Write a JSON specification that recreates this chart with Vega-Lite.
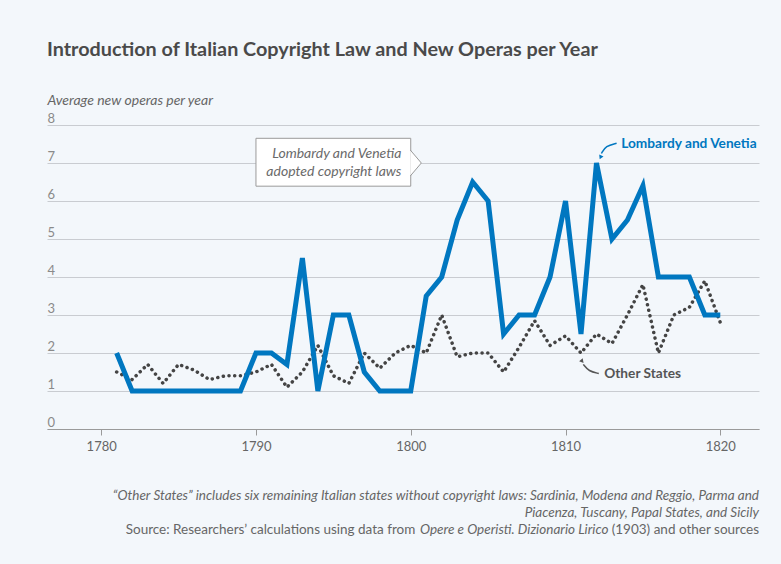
{
  "$schema": "https://vega.github.io/schema/vega-lite/v6.json",
  "autosize": {"type": "none"},
  "width": 712,
  "height": 304,
  "padding": {"left": 47, "top": 125, "right": 22, "bottom": 135},
  "background": "#f3f7fb",
  "config": {"view": {"stroke": null}, "font": "Lato", "text": {"font": "Lato"}},
  "title": {
    "text": "Introduction of Italian Copyright Law and New Operas per Year",
    "anchor": "start",
    "frame": "group",
    "font": "Lato",
    "fontSize": 19.8,
    "fontWeight": "bold",
    "color": "#4a4a4a",
    "offset": 33
  },
  "datasets": {
    "series": [
      {"year": 1781, "value": 2, "series": "Lombardy and Venetia"},
      {"year": 1782, "value": 1, "series": "Lombardy and Venetia"},
      {"year": 1783, "value": 1, "series": "Lombardy and Venetia"},
      {"year": 1784, "value": 1, "series": "Lombardy and Venetia"},
      {"year": 1785, "value": 1, "series": "Lombardy and Venetia"},
      {"year": 1786, "value": 1, "series": "Lombardy and Venetia"},
      {"year": 1787, "value": 1, "series": "Lombardy and Venetia"},
      {"year": 1788, "value": 1, "series": "Lombardy and Venetia"},
      {"year": 1789, "value": 1, "series": "Lombardy and Venetia"},
      {"year": 1790, "value": 2, "series": "Lombardy and Venetia"},
      {"year": 1791, "value": 2, "series": "Lombardy and Venetia"},
      {"year": 1792, "value": 1.7, "series": "Lombardy and Venetia"},
      {"year": 1793, "value": 4.5, "series": "Lombardy and Venetia"},
      {"year": 1794, "value": 1, "series": "Lombardy and Venetia"},
      {"year": 1795, "value": 3, "series": "Lombardy and Venetia"},
      {"year": 1796, "value": 3, "series": "Lombardy and Venetia"},
      {"year": 1797, "value": 1.5, "series": "Lombardy and Venetia"},
      {"year": 1798, "value": 1, "series": "Lombardy and Venetia"},
      {"year": 1799, "value": 1, "series": "Lombardy and Venetia"},
      {"year": 1800, "value": 1, "series": "Lombardy and Venetia"},
      {"year": 1801, "value": 3.5, "series": "Lombardy and Venetia"},
      {"year": 1802, "value": 4, "series": "Lombardy and Venetia"},
      {"year": 1803, "value": 5.5, "series": "Lombardy and Venetia"},
      {"year": 1804, "value": 6.5, "series": "Lombardy and Venetia"},
      {"year": 1805, "value": 6, "series": "Lombardy and Venetia"},
      {"year": 1806, "value": 2.5, "series": "Lombardy and Venetia"},
      {"year": 1807, "value": 3, "series": "Lombardy and Venetia"},
      {"year": 1808, "value": 3, "series": "Lombardy and Venetia"},
      {"year": 1809, "value": 4, "series": "Lombardy and Venetia"},
      {"year": 1810, "value": 6, "series": "Lombardy and Venetia"},
      {"year": 1811, "value": 2.5, "series": "Lombardy and Venetia"},
      {"year": 1812, "value": 7, "series": "Lombardy and Venetia"},
      {"year": 1813, "value": 5, "series": "Lombardy and Venetia"},
      {"year": 1814, "value": 5.5, "series": "Lombardy and Venetia"},
      {"year": 1815, "value": 6.4, "series": "Lombardy and Venetia"},
      {"year": 1816, "value": 4, "series": "Lombardy and Venetia"},
      {"year": 1817, "value": 4, "series": "Lombardy and Venetia"},
      {"year": 1818, "value": 4, "series": "Lombardy and Venetia"},
      {"year": 1819, "value": 3, "series": "Lombardy and Venetia"},
      {"year": 1820, "value": 3, "series": "Lombardy and Venetia"},
      {"year": 1781, "value": 1.5, "series": "Other States"},
      {"year": 1782, "value": 1.3, "series": "Other States"},
      {"year": 1783, "value": 1.7, "series": "Other States"},
      {"year": 1784, "value": 1.2, "series": "Other States"},
      {"year": 1785, "value": 1.7, "series": "Other States"},
      {"year": 1786, "value": 1.55, "series": "Other States"},
      {"year": 1787, "value": 1.3, "series": "Other States"},
      {"year": 1788, "value": 1.4, "series": "Other States"},
      {"year": 1789, "value": 1.4, "series": "Other States"},
      {"year": 1790, "value": 1.5, "series": "Other States"},
      {"year": 1791, "value": 1.7, "series": "Other States"},
      {"year": 1792, "value": 1.1, "series": "Other States"},
      {"year": 1793, "value": 1.5, "series": "Other States"},
      {"year": 1794, "value": 2.2, "series": "Other States"},
      {"year": 1795, "value": 1.4, "series": "Other States"},
      {"year": 1796, "value": 1.2, "series": "Other States"},
      {"year": 1797, "value": 2.0, "series": "Other States"},
      {"year": 1798, "value": 1.6, "series": "Other States"},
      {"year": 1799, "value": 2.0, "series": "Other States"},
      {"year": 1800, "value": 2.2, "series": "Other States"},
      {"year": 1801, "value": 2.0, "series": "Other States"},
      {"year": 1802, "value": 3.0, "series": "Other States"},
      {"year": 1803, "value": 1.9, "series": "Other States"},
      {"year": 1804, "value": 2.0, "series": "Other States"},
      {"year": 1805, "value": 2.0, "series": "Other States"},
      {"year": 1806, "value": 1.5, "series": "Other States"},
      {"year": 1807, "value": 2.15, "series": "Other States"},
      {"year": 1808, "value": 2.85, "series": "Other States"},
      {"year": 1809, "value": 2.2, "series": "Other States"},
      {"year": 1810, "value": 2.45, "series": "Other States"},
      {"year": 1811, "value": 2.0, "series": "Other States"},
      {"year": 1812, "value": 2.5, "series": "Other States"},
      {"year": 1813, "value": 2.25, "series": "Other States"},
      {"year": 1814, "value": 3.0, "series": "Other States"},
      {"year": 1815, "value": 3.8, "series": "Other States"},
      {"year": 1816, "value": 2.0, "series": "Other States"},
      {"year": 1817, "value": 3.0, "series": "Other States"},
      {"year": 1818, "value": 3.2, "series": "Other States"},
      {"year": 1819, "value": 3.9, "series": "Other States"},
      {"year": 1820, "value": 2.8, "series": "Other States"}
    ],
    "callout": [
      {"year": 1790.0, "year2": 1800.0, "value": 6.39, "value2": 7.65}
    ],
    "calloutText": [
      {"year": 1799.4, "value": 7.24, "label": "Lombardy and Venetia"},
      {"year": 1799.4, "value": 6.77, "label": "adopted copyright laws"}
    ],
    "pointer": [
      {"year": 1799.97, "value": 7.0}
    ],
    "seriesLabels": [
      {"year": 1813.6, "value": 7.5, "label": "Lombardy and Venetia", "series": "Lombardy and Venetia"},
      {"year": 1812.5, "value": 1.45, "label": "Other States", "series": "Other States"}
    ],
    "arrows": [
      {"series": "Lombardy and Venetia", "i": 1, "year": 1813.3, "value": 7.52},
      {"series": "Lombardy and Venetia", "i": 2, "year": 1812.6, "value": 7.45},
      {"series": "Lombardy and Venetia", "i": 3, "year": 1812.32, "value": 7.25},
      {"series": "Other States", "i": 1, "year": 1812.15, "value": 1.46},
      {"series": "Other States", "i": 2, "year": 1811.5, "value": 1.52},
      {"series": "Other States", "i": 3, "year": 1811.15, "value": 1.7}
    ],
    "heads": [
      {"series": "Lombardy and Venetia", "year": 1812.26, "value": 7.15, "angle": 25},
      {"series": "Other States", "year": 1811.08, "value": 1.78, "angle": -40}
    ],
    "notes": [
      {"year": 1822.5, "value": -1.75, "label": "“Other States” includes six remaining Italian states without copyright laws: Sardinia, Modena and Reggio, Parma and"},
      {"year": 1822.5, "value": -2.22, "label": "Piacenza, Tuscany, Papal States, and Sicily"}
    ],
    "source1": [{"year": 1800.3, "value": -2.66, "label": "Source: Researchers’ calculations using data from"}],
    "source2": [{"year": 1812.77, "value": -2.66, "label": "Opere e Operisti. Dizionario Lirico"}],
    "source3": [{"year": 1822.5, "value": -2.66, "label": "(1903) and other sources"}]
  },
  "encoding": {
    "x": {
      "field": "year",
      "type": "quantitative",
      "scale": {"domain": [1776.5, 1822.5], "nice": false, "zero": false},
      "axis": {
        "values": [1780, 1790, 1800, 1810, 1820],
        "format": "d",
        "title": null,
        "grid": false,
        "domainColor": "#9a9a9a",
        "tickColor": "#9a9a9a",
        "tickSize": 6,
        "labelFont": "Lato",
        "labelFontSize": 13,
        "labelColor": "#666666",
        "labelPadding": 5
      }
    },
    "y": {
      "field": "value",
      "type": "quantitative",
      "scale": {"domain": [0, 8], "nice": false},
      "axis": {
        "values": [0, 1, 2, 3, 4, 5, 6, 7, 8],
        "title": "Average new operas per year",
        "titleAngle": 0,
        "titleAlign": "left",
        "titleBaseline": "alphabetic",
        "titleX": 0,
        "titleY": -21,
        "titleFont": "Lato",
        "titleFontStyle": "italic",
        "titleFontWeight": "normal",
        "titleFontSize": 14,
        "titleColor": "#666666",
        "domain": false,
        "ticks": false,
        "tickSize": 0,
        "grid": true,
        "gridColor": "#c9ccd1",
        "gridWidth": 1,
        "labelAlign": "left",
        "labelBaseline": "alphabetic",
        "labelPadding": 0,
        "labelOffset": -3,
        "labelFont": "Lato",
        "labelFontSize": 13,
        "labelColor": "#8a8a8a",
        "labelOverlap": false,
        "labelFlush": false
      }
    }
  },
  "layer": [
    {
      "data": {"values": [{"year": 1801}]},
      "mark": {"type": "rule", "color": "#8c8c8c", "strokeDash": [7, 5], "strokeWidth": 1.3},
      "encoding": {"y": {"datum": 0}, "y2": {"datum": 8}}
    },
    {
      "data": {"name": "series"},
      "transform": [{"filter": "datum.series === 'Other States'"}],
      "mark": {"type": "line", "color": "#444444", "strokeWidth": 3.5, "strokeDash": [0.1, 5.6], "strokeCap": "round"}
    },
    {
      "data": {"name": "series"},
      "transform": [{"filter": "datum.series === 'Lombardy and Venetia'"}],
      "mark": {"type": "line", "color": "#0077c0", "strokeWidth": 5, "strokeJoin": "miter"}
    },
    {
      "data": {"name": "callout"},
      "mark": {"type": "rect", "fill": "#ffffff", "stroke": "#9a9a9a", "strokeWidth": 1},
      "encoding": {"x2": {"field": "year2"}, "y2": {"field": "value2"}}
    },
    {
      "data": {"name": "pointer"},
      "mark": {"type": "point", "shape": "M0,-1L0.85,0L0,1", "size": 676, "filled": false, "fill": "#ffffff", "fillOpacity": 1, "stroke": "#9a9a9a", "strokeWidth": 1, "opacity": 1}
    },
    {
      "data": {"name": "calloutText"},
      "mark": {"type": "text", "align": "right", "baseline": "middle", "fontStyle": "italic", "fontSize": 14, "color": "#6a6a6a"},
      "encoding": {"text": {"field": "label"}}
    },
    {
      "data": {"name": "seriesLabels"},
      "mark": {"type": "text", "align": "left", "baseline": "middle", "fontWeight": "bold", "fontSize": 13.7},
      "encoding": {
        "text": {"field": "label"},
        "color": {"field": "series", "type": "nominal", "scale": {"domain": ["Lombardy and Venetia", "Other States"], "range": ["#0077c0", "#555555"]}, "legend": null}
      }
    },
    {
      "data": {"name": "arrows"},
      "mark": {"type": "line", "strokeWidth": 1.5, "interpolate": "basis"},
      "encoding": {
        "order": {"field": "i"},
        "detail": {"field": "series"},
        "color": {"field": "series", "type": "nominal", "legend": null}
      }
    },
    {
      "data": {"name": "heads"},
      "mark": {"type": "point", "shape": "triangle-down", "filled": true, "size": 22, "opacity": 1},
      "encoding": {
        "angle": {"field": "angle", "type": "quantitative", "scale": null},
        "color": {"field": "series", "type": "nominal", "legend": null}
      }
    },
    {
      "data": {"name": "notes"},
      "mark": {"type": "text", "align": "right", "baseline": "middle", "fontStyle": "italic", "fontSize": 13.5, "color": "#666666"},
      "encoding": {"text": {"field": "label"}}
    },
    {
      "data": {"name": "source1"},
      "mark": {"type": "text", "align": "right", "baseline": "middle", "fontSize": 13.5, "color": "#666666"},
      "encoding": {"text": {"field": "label"}}
    },
    {
      "data": {"name": "source2"},
      "mark": {"type": "text", "align": "right", "baseline": "middle", "fontStyle": "italic", "fontSize": 13.5, "color": "#666666"},
      "encoding": {"text": {"field": "label"}}
    },
    {
      "data": {"name": "source3"},
      "mark": {"type": "text", "align": "right", "baseline": "middle", "fontSize": 13.5, "color": "#666666"},
      "encoding": {"text": {"field": "label"}}
    }
  ]
}
